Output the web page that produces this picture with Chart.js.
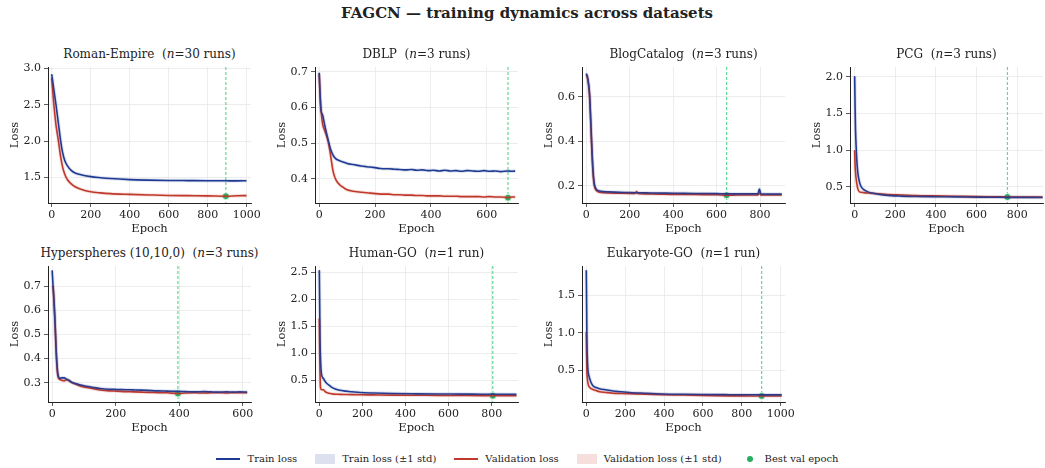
<!DOCTYPE html>
<html>
<head>
<meta charset="utf-8">
<script src="https://cdn.jsdelivr.net/npm/chart.js@4"></script>
<style>
  html, body { margin: 0; padding: 0; background: #fff; }
  body { width: 1045px; height: 468px; overflow: hidden; position: relative; font-family: 'DejaVu Serif', serif; color: #222; }
  .main-title { position: absolute; top: 4px; left: 0; width: 1054px; text-align: center; font-weight: bold; font-size: 15px; }
  .sub-title { position: absolute; text-align: center; font-size: 12px; white-space: nowrap; }
  canvas { position: absolute; }
  .legend { position: absolute; top: 453px; left: 0; width: 1055px; display: flex; justify-content: center; align-items: center; font-size: 10px; }
  .legend .item { display: flex; align-items: center; margin: 0 9px; }
  .legend .line { width: 24px; height: 2px; margin-right: 7px; }
  .legend .band { width: 20px; height: 10px; margin-right: 7px; }
  .legend .dot { width: 6px; height: 6px; border-radius: 50%; background: #27ae60; margin: 0 12px 0 7px; }
</style>
</head>
<body>
<div class="main-title">FAGCN — training dynamics across datasets</div>

<script>
// ---- data (epoch, mean loss) ----
var romanEpochs = [0, 11, 22, 34, 46, 56, 66, 80, 100, 120, 150, 200, 250, 300, 400, 500, 600, 700, 800, 893, 950, 999];
var romanTrain  = [2.92, 2.71, 2.50, 2.25, 2.00, 1.84, 1.74, 1.66, 1.595, 1.56, 1.535, 1.51, 1.495, 1.483, 1.468, 1.461, 1.457, 1.455, 1.453, 1.452, 1.451, 1.452];
var romanVal    = [2.87, 2.50, 2.22, 2.01, 1.78, 1.64, 1.55, 1.47, 1.41, 1.37, 1.335, 1.30, 1.285, 1.275, 1.265, 1.257, 1.25, 1.247, 1.244, 1.24, 1.245, 1.248];

var dblpEpochs = [0, 3, 6, 12, 20, 32, 40, 50, 60, 75, 86, 100, 122, 150, 170, 194, 220, 250, 270, 289, 310, 330, 350, 370, 390, 409, 430, 450, 470, 490, 510, 528, 550, 570, 590, 610, 630, 650, 676, 690, 702];
var dblpTrain  = [0.698, 0.64, 0.595, 0.58, 0.55, 0.509, 0.485, 0.466, 0.456, 0.45, 0.447, 0.443, 0.44, 0.436, 0.434, 0.432, 0.429, 0.428, 0.427, 0.426, 0.425, 0.426, 0.424, 0.425, 0.423, 0.424, 0.422, 0.424, 0.422, 0.423, 0.421, 0.423, 0.422, 0.421, 0.423, 0.421, 0.422, 0.420, 0.422, 0.421, 0.422];
var dblpVal    = [0.695, 0.64, 0.60, 0.555, 0.535, 0.505, 0.47, 0.42, 0.397, 0.382, 0.376, 0.369, 0.365, 0.362, 0.361, 0.359, 0.357, 0.357, 0.355, 0.355, 0.354, 0.354, 0.353, 0.353, 0.352, 0.352, 0.352, 0.351, 0.351, 0.351, 0.350, 0.350, 0.350, 0.350, 0.349, 0.350, 0.349, 0.349, 0.347, 0.349, 0.349];

var blogEpochs = [0, 5, 10, 15, 20, 25, 30, 35, 40, 50, 60, 80, 100, 150, 200, 225, 231, 237, 300, 400, 500, 600, 646, 700, 790, 797, 804, 900];
var blogTrain  = [0.705, 0.69, 0.66, 0.61, 0.50, 0.38, 0.28, 0.22, 0.195, 0.18, 0.176, 0.173, 0.172, 0.170, 0.169, 0.168, 0.168, 0.168, 0.167, 0.166, 0.165, 0.164, 0.163, 0.163, 0.163, 0.185, 0.163, 0.162];
var blogVal    = [0.70, 0.685, 0.655, 0.60, 0.49, 0.37, 0.27, 0.21, 0.188, 0.175, 0.170, 0.168, 0.167, 0.166, 0.165, 0.165, 0.174, 0.165, 0.163, 0.161, 0.160, 0.159, 0.157, 0.158, 0.158, 0.168, 0.158, 0.158];

var pcgEpochs = [0, 2, 4, 8, 12, 16, 24, 32, 45, 65, 90, 113, 150, 227, 300, 400, 502, 600, 700, 752, 800, 925];
var pcgTrain  = [2.01, 1.60, 1.30, 1.00, 0.80, 0.68, 0.56, 0.50, 0.46, 0.43, 0.41, 0.40, 0.385, 0.372, 0.367, 0.364, 0.362, 0.358, 0.356, 0.355, 0.355, 0.354];
var pcgVal    = [1.00, 0.80, 0.70, 0.59, 0.52, 0.47, 0.43, 0.425, 0.42, 0.415, 0.41, 0.405, 0.398, 0.388, 0.38, 0.375, 0.37, 0.365, 0.362, 0.36, 0.36, 0.36];

var hyperEpochs = [0, 3, 6, 9, 12, 15, 19, 25, 30, 38, 45, 52, 60, 77, 90, 108, 130, 151, 180, 203, 230, 256, 280, 300, 330, 361, 396, 420, 450, 480, 500, 520, 550, 570, 590, 614];
var hyperTrain  = [0.765, 0.70, 0.63, 0.55, 0.45, 0.38, 0.33, 0.318, 0.32, 0.32, 0.315, 0.31, 0.303, 0.295, 0.29, 0.285, 0.28, 0.276, 0.273, 0.272, 0.271, 0.27, 0.269, 0.268, 0.266, 0.265, 0.264, 0.263, 0.262, 0.263, 0.262, 0.261, 0.262, 0.261, 0.262, 0.261];
var hyperVal    = [0.70, 0.695, 0.64, 0.56, 0.46, 0.37, 0.322, 0.313, 0.31, 0.308, 0.312, 0.31, 0.302, 0.292, 0.285, 0.28, 0.275, 0.27, 0.266, 0.265, 0.263, 0.262, 0.261, 0.26, 0.259, 0.258, 0.255, 0.257, 0.258, 0.257, 0.258, 0.259, 0.257, 0.259, 0.258, 0.258];

var humanEpochs = [0, 2, 3, 6, 11, 19, 26, 34, 50, 65, 85, 112, 150, 189, 250, 344, 450, 550, 653, 750, 805, 850, 915];
var humanTrain  = [2.54, 1.80, 1.34, 0.85, 0.60, 0.54, 0.49, 0.45, 0.40, 0.36, 0.33, 0.31, 0.295, 0.28, 0.27, 0.26, 0.255, 0.252, 0.25, 0.248, 0.247, 0.246, 0.245];
var humanVal    = [1.65, 1.00, 0.70, 0.36, 0.33, 0.33, 0.30, 0.28, 0.26, 0.25, 0.246, 0.244, 0.24, 0.237, 0.235, 0.232, 0.229, 0.226, 0.224, 0.222, 0.22, 0.221, 0.221];

var eukEpochs = [0, 2, 3, 5, 8, 12, 17, 25, 34, 50, 68, 100, 137, 180, 223, 300, 395, 500, 600, 739, 850, 902, 1005];
var eukTrain  = [1.835, 1.30, 0.965, 0.70, 0.52, 0.44, 0.39, 0.33, 0.29, 0.265, 0.25, 0.235, 0.22, 0.21, 0.20, 0.19, 0.18, 0.175, 0.172, 0.17, 0.169, 0.168, 0.168];
var eukVal    = [1.01, 0.70, 0.50, 0.40, 0.33, 0.29, 0.27, 0.25, 0.24, 0.225, 0.21, 0.20, 0.19, 0.186, 0.183, 0.178, 0.17, 0.165, 0.158, 0.154, 0.153, 0.152, 0.152];

var datasetNames = ['Roman-Empire', 'DBLP', 'BlogCatalog', 'PCG', 'Hyperspheres (10,10,0)', 'Human-GO', 'Eukaryote-GO'];
var runCounts    = [30, 3, 3, 3, 3, 1, 1];
var bestEpochs   = [893, 676, 646, 752, 396, 805, 902];
var bestVal      = [1.24, 0.347, 0.157, 0.36, 0.255, 0.22, 0.152];

// tick labels
var epochTicks  = [0, 200, 400, 600, 800, 1000];
var romanYTicks = [1.5, 2.0, 2.5, 3.0];
var dblpYTicks  = [0.4, 0.5, 0.6, 0.7];
var blogYTicks  = [0.2, 0.4, 0.6];
var pcgYTicks   = [0.5, 1.0, 1.5, 2.0];
var hyperYTicks = [0.3, 0.4, 0.5, 0.6, 0.7];
var humanYTicks = [0.5, 1.0, 1.5, 2.0, 2.5];
var eukYTicks   = [0.5, 1.0, 1.5];

// ---- layout (plot area box per panel: left, top, right, bottom) ----
var panels = [
    { box: [48, 67, 251, 203],   epochs: romanEpochs, train: romanTrain, val: romanVal, x: [-19, 1022], y: [1.146, 3.02],  yticks: romanYTicks },
    { box: [315, 67, 518, 203],  epochs: dblpEpochs,  train: dblpTrain,  val: dblpVal,  x: [-15, 712],  y: [0.332, 0.714], yticks: dblpYTicks },
    { box: [582, 67, 785, 203],  epochs: blogEpochs,  train: blogTrain,  val: blogVal,  x: [-20, 915],  y: [0.122, 0.734], yticks: blogYTicks },
    { box: [850, 67, 1043, 203], epochs: pcgEpochs,   train: pcgTrain,   val: pcgVal,   x: [-23, 927],  y: [0.278, 2.136], yticks: pcgYTicks },
    { box: [48, 266, 251, 402],  epochs: hyperEpochs, train: hyperTrain, val: hyperVal, x: [-13, 626],  y: [0.22, 0.783],  yticks: hyperYTicks },
    { box: [315, 266, 518, 402], epochs: humanEpochs, train: humanTrain, val: humanVal, x: [-20, 922],  y: [0.104, 2.62],  yticks: humanYTicks },
    { box: [582, 266, 785, 402], epochs: eukEpochs,   train: eukTrain,   val: eukVal,   x: [-22, 1022], y: [0.072, 1.892], yticks: eukYTicks }
];

var TRAIN = '#1f3a93';
var VAL = '#c0392b';
var BEST = '#27b463';
var FONT = "'DejaVu Serif', serif";

var Y_W = 44, X_H = 34, PAD_T = 10, PAD_R = 18;

// dashed vertical line at the best validation epoch
var bestLinePlugin = {
    id: 'bestLine',
    beforeDatasetsDraw: function (chart, args, opts) {
        var xs = chart.scales.x, area = chart.chartArea, ctx = chart.ctx;
        var px = xs.getPixelForValue(opts.epoch);
        ctx.save();
        ctx.strokeStyle = 'rgba(46, 204, 113, 0.75)';
        ctx.lineWidth = 1.2;
        ctx.setLineDash([3, 2]);
        ctx.beginPath();
        ctx.moveTo(px, area.top);
        ctx.lineTo(px, area.bottom);
        ctx.stroke();
        ctx.restore();
    }
};

function toPoints(epochs, values) {
    return epochs.map(function (e, i) { return { x: e, y: values[i] }; });
}

function fixedTicks(list) {
    return function (scale) {
        scale.ticks = list.filter(function (v) { return v >= scale.min && v <= scale.max; })
            .map(function (v) { return { value: v }; });
    };
}

panels.forEach(function (p, i) {
    var L = p.box[0], T = p.box[1], R = p.box[2], B = p.box[3];

    var title = document.createElement('div');
    title.className = 'sub-title';
    title.style.left = (L - 50) + 'px';
    title.style.width = (R - L + 100) + 'px';
    title.style.top = (T - 20) + 'px';
    title.innerHTML = datasetNames[i] + '&nbsp; (<i>n</i>=' + runCounts[i] + ' run' + (runCounts[i] > 1 ? 's' : '') + ')';
    document.body.appendChild(title);

    var canvas = document.createElement('canvas');
    var w = Y_W + (R - L) + PAD_R, h = PAD_T + (B - T) + X_H;
    canvas.width = w;
    canvas.height = h;
    canvas.style.left = (L - Y_W) + 'px';
    canvas.style.top = (T - PAD_T) + 'px';
    canvas.style.width = w + 'px';
    canvas.style.height = h + 'px';
    document.body.appendChild(canvas);

    new Chart(canvas.getContext('2d'), {
        type: 'line',
        data: {
            datasets: [
                { label: 'Train loss (±1 std)', data: toPoints(p.epochs, p.train), borderColor: 'rgba(31,58,147,0.15)', borderWidth: 3.5, pointRadius: 0, cubicInterpolationMode: 'monotone' },
                { label: 'Validation loss (±1 std)', data: toPoints(p.epochs, p.val), borderColor: 'rgba(192,57,43,0.15)', borderWidth: 3.5, pointRadius: 0, cubicInterpolationMode: 'monotone' },
                { label: 'Train loss', data: toPoints(p.epochs, p.train), borderColor: TRAIN, borderWidth: 1.6, pointRadius: 0, cubicInterpolationMode: 'monotone' },
                { label: 'Validation loss', data: toPoints(p.epochs, p.val), borderColor: VAL, borderWidth: 1.6, pointRadius: 0, cubicInterpolationMode: 'monotone' },
                { label: 'Best val epoch', data: [{ x: bestEpochs[i], y: bestVal[i] }], showLine: false, pointRadius: 3.5, pointBackgroundColor: BEST, pointBorderColor: '#fff', pointBorderWidth: 0.8, clip: false }
            ]
        },
        options: {
            responsive: false,
            animation: false,
            devicePixelRatio: 1,
            layout: { padding: { top: PAD_T, right: PAD_R, left: 0, bottom: 0 } },
            plugins: {
                legend: { display: false },
                tooltip: { enabled: false },
                bestLine: { epoch: bestEpochs[i] }
            },
            scales: {
                x: {
                    type: 'linear',
                    min: p.x[0], max: p.x[1],
                    afterBuildTicks: fixedTicks(epochTicks),
                    afterFit: function (s) { s.height = X_H; },
                    grid: { color: '#e8e8e8', lineWidth: 0.8, tickColor: '#333', tickLength: 4 },
                    border: { display: true, color: '#222', width: 1 },
                    ticks: { maxRotation: 0, padding: 2, color: '#222', font: { family: FONT, size: 11 },
                        callback: function (v) { return String(Math.round(v)); } },
                    title: { display: true, text: 'Epoch', color: '#222', font: { family: FONT, size: 11.5 }, padding: { top: 0, bottom: 1 } }
                },
                y: {
                    min: p.y[0], max: p.y[1],
                    afterBuildTicks: fixedTicks(p.yticks),
                    afterFit: function (s) { s.width = Y_W; },
                    grid: { color: '#e8e8e8', lineWidth: 0.8, tickColor: '#333', tickLength: 4 },
                    border: { display: true, color: '#222', width: 1 },
                    ticks: { padding: 3, color: '#222', font: { family: FONT, size: 11 },
                        callback: function (v) { return v.toFixed(1); } },
                    title: { display: true, text: 'Loss', color: '#222', font: { family: FONT, size: 11.5 }, padding: { top: 4, bottom: 0 } }
                }
            }
        },
        plugins: [bestLinePlugin]
    });
});
</script>

<div class="legend">
  <div class="item"><span class="line" style="background:#1f3a93"></span>Train loss</div>
  <div class="item"><span class="band" style="background:#dde1ef"></span>Train loss (±1 std)</div>
  <div class="item"><span class="line" style="background:#c0392b"></span>Validation loss</div>
  <div class="item"><span class="band" style="background:#f5dedb"></span>Validation loss (±1 std)</div>
  <div class="item"><span class="dot"></span>Best val epoch</div>
</div>
</body>
</html>
